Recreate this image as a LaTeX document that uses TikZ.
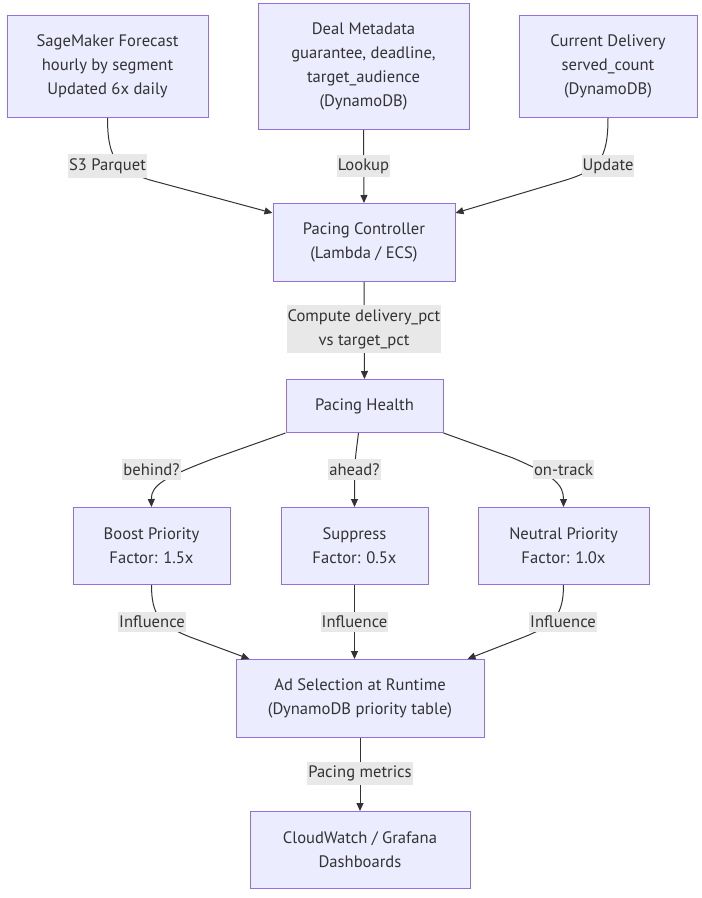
\documentclass[tikz,border=0pt]{standalone}
\usepackage{fontspec}
\setmainfont{PT Sans}
\usetikzlibrary{arrows.meta,calc}
\definecolor{boxfill}{HTML}{ECECFF}
\definecolor{boxline}{HTML}{9370DB}
\definecolor{lblbg}{HTML}{E8E8E8}
\definecolor{ink}{HTML}{333333}
\begin{document}
\begin{tikzpicture}[x=1pt,y=-1pt,
  box/.style={draw=boxline, fill=boxfill, line width=1pt, align=center, inner sep=0pt,
    font=\fontsize{16.6}{24}\selectfont, text=ink},
  lbl/.style={fill=lblbg, align=center, inner xsep=1pt, inner ysep=4pt,
    font=\fontsize{16.6}{24}\selectfont, text=ink},
  edge/.style={draw=ink, line width=1pt, -{Triangle[length=8pt,width=7pt]}}]
\useasboundingbox[fill=white] (0,0) rectangle (702,898);

% nodes
\node[box, minimum width=201pt, minimum height=102pt] (sm) at (107.5,66.5) {SageMaker Forecast\\hourly by segment\\Updated 6x daily};
\node[box, minimum width=211pt, minimum height=126pt] (dm) at (363.5,66.5) {Deal Metadata\\guarantee, deadline,\\target\_audience\\(DynamoDB)};
\node[box, minimum width=178pt, minimum height=102pt] (cd) at (608,66.5) {Current Delivery\\served\_count\\(DynamoDB)};
\node[box, minimum width=182pt, minimum height=78pt] (pc) at (364,242.5) {Pacing Controller\\(Lambda / ECS)};
\node[box, minimum width=157pt, minimum height=53pt] (ph) at (364.5,406) {Pacing Health};
\node[box, minimum width=157pt, minimum height=77pt] (bp) at (151.5,546) {Boost Priority\\Factor: 1.5x};
\node[box, minimum width=147pt, minimum height=77pt] (sp) at (354.5,546) {Suppress\\Factor: 0.5x};
\node[box, minimum width=171pt, minimum height=77pt] (np) at (563.5,546) {Neutral Priority\\Factor: 1.0x};
\node[box, minimum width=248pt, minimum height=78pt] (ad) at (360,698.5) {Ad Selection at Runtime\\(DynamoDB priority table)};
\node[box, minimum width=220pt, minimum height=77pt] (cw) at (360,850) {CloudWatch / Grafana\\Dashboards};

% edges
\draw[edge] (sm.south) .. controls (107.5,160) and (118,170) .. (150,180) -- ($(pc.north west)+(0,10)$);
\draw[edge] (dm.south) -- (pc.north);
\draw[edge] (cd.south) .. controls (608,160) and (598,170) .. (566,180) -- ($(pc.north east)+(0,10)$);
\draw[edge] (pc.south) -- (ph.north);
\draw[edge] (ph.south west) -- (215,458) .. controls (165,477) and (151,485) .. (bp.north);
\draw[edge] ($(ph.south)+(-6,0)$) .. controls (355,460) .. (354.5,480) -- (sp.north);
\draw[edge] (ph.south east) -- (513,458) .. controls (555,476) and (563.5,485) .. (np.north);
\draw[edge] (bp.south) .. controls (151.5,615) and (160,625) .. (190,637) -- ($(ad.north west)+(14,0)$);
\draw[edge] (sp.south) -- (sp.south |- ad.north);
\draw[edge] (np.south) .. controls (563.5,615) and (554,625) .. (524,637) -- ($(ad.north east)+(-17,0)$);
\draw[edge] (ad.south) -- (cw.north);

% edge labels
\node[lbl] (l1) at (107.5,166) {S3 Parquet};
\node[lbl] (l2) at (363.5,166) {Lookup};
\node[lbl] (l3) at (608,166) {Update};
\node[lbl] (l4) at (364,329) {Compute delivery\_pct\\vs target\_pct};
\node[lbl] (l5) at (151.5,469.5) {behind?};
\node[lbl] (l6) at (354.5,469.5) {ahead?};
\node[lbl] (l7) at (563.5,469.5) {on-track};
\node[lbl] (l8) at (152,621.5) {Influence};
\node[lbl] (l9) at (354.5,621.5) {Influence};
\node[lbl] (l10) at (563,621.5) {Influence};
\node[lbl] (l11) at (360,773.5) {Pacing metrics};
\end{tikzpicture}
\end{document}
